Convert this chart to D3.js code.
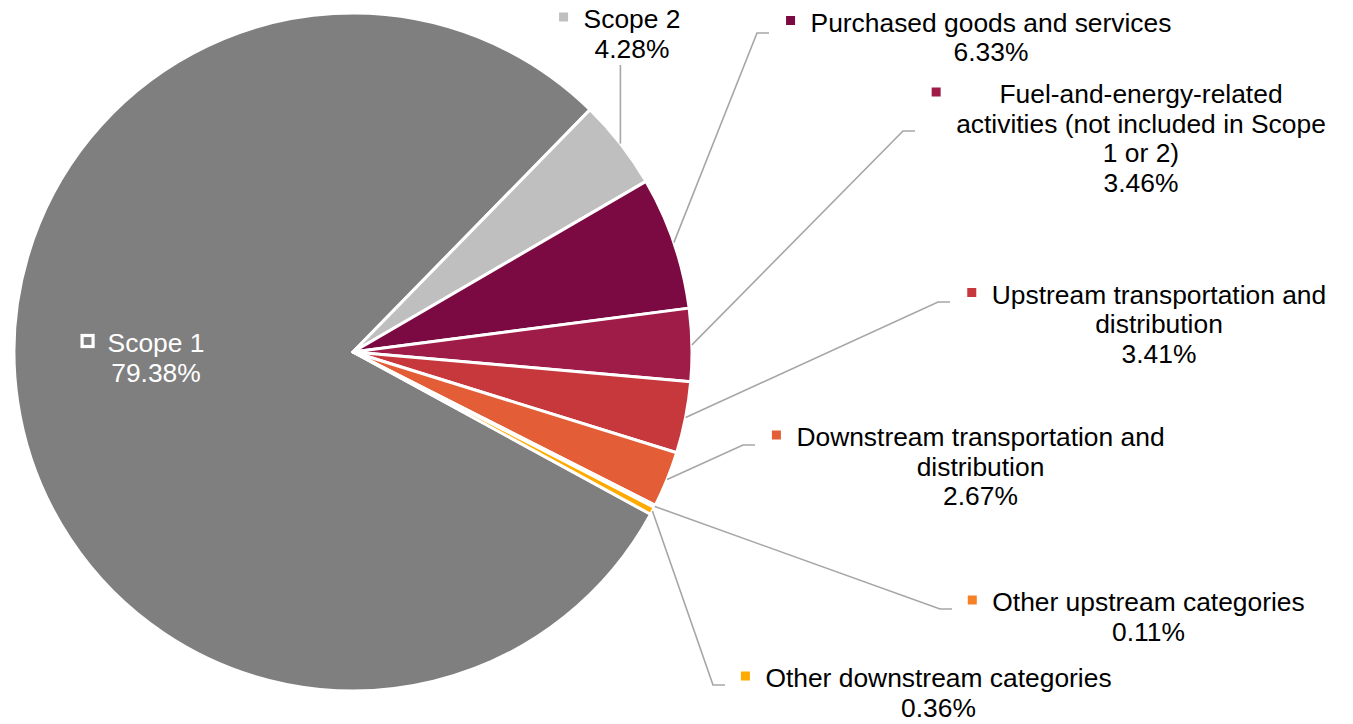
<!DOCTYPE html>
<html>
<head>
<meta charset="utf-8">
<script src="https://cdn.jsdelivr.net/npm/d3@7"></script>
<style>
  html, body { margin: 0; padding: 0; background: #ffffff; }
  svg { display: block; }
  text { font-family: "Liberation Sans", Arial, sans-serif; }
</style>
</head>
<body>
<svg id="chart" width="1353" height="724"></svg>
<script>
// ---- data ----
const categories = [
  "Scope 1",
  "Scope 2",
  "Purchased goods and services",
  "Fuel-and-energy-related activities (not included in Scope 1 or 2)",
  "Upstream transportation and distribution",
  "Downstream transportation and distribution",
  "Other upstream categories",
  "Other downstream categories"
];
const shares = [79.38, 4.28, 6.33, 3.46, 3.41, 2.67, 0.11, 0.36];
const valueLabels = ["79.38%", "4.28%", "6.33%", "3.46%", "3.41%", "2.67%", "0.11%", "0.36%"];
const labelLines = [
  ["Scope 1"],
  ["Scope 2"],
  ["Purchased goods and services"],
  ["Fuel-and-energy-related", "activities (not included in Scope", "1 or 2)"],
  ["Upstream transportation and", "distribution"],
  ["Downstream transportation and", "distribution"],
  ["Other upstream categories"],
  ["Other downstream categories"]
];
const colors = ["#7F7F7F", "#BFBFBF", "#7B0A42", "#A01C48", "#C7383D", "#E35D36", "#F58025", "#FFAA00"];

// ---- layout ----
const W = 1353, H = 724;
const cx = 353, cy = 352, R = 339;
const startDeg = 118.6;
const fontSize = 26.4, lineH = 29.7;
// label placement: text centre x, first baseline, leader elbow (null = inside / straight)
const labelPos = [
  { x: 156,    y: 352,   elbow: null,       inside: true },
  { x: 632,    y: 28,    elbow: "vertical", endY: 65 },
  { x: 991,    y: 31.5,  elbow: [757, 33] },
  { x: 1141,   y: 103,   elbow: [903, 131] },
  { x: 1159,   y: 303.5, elbow: [938, 302] },
  { x: 980.5,  y: 446,   elbow: [743, 445] },
  { x: 1148.5, y: 611,   elbow: [940, 609] },
  { x: 938.5,  y: 687,   elbow: [713, 685] }
];

const svg = d3.select("#chart");
const g = svg.append("g").attr("transform", `translate(${cx},${cy})`);

const rows = categories.map((c, i) => ({ name: c, value: shares[i], i }));
const start = startDeg * Math.PI / 180;
const pie = d3.pie().sort(null).value(d => d.value)
  .startAngle(start).endAngle(start + 2 * Math.PI);
const arcs = pie(rows);
const arc = d3.arc().innerRadius(0).outerRadius(R);

g.selectAll("path.slice").data(arcs).enter().append("path")
  .attr("class", "slice")
  .attr("d", arc)
  .attr("fill", d => colors[d.data.i])
  .attr("stroke", "#ffffff")
  .attr("stroke-width", 3)
  .attr("stroke-linejoin", "round");

// leader lines
const lines = svg.append("g");
arcs.forEach(a => {
  const p = labelPos[a.data.i];
  if (p.inside) return;
  const m = (a.startAngle + a.endAngle) / 2;
  const sx = cx + R * Math.sin(m), sy = cy - R * Math.cos(m);
  let pts;
  if (p.elbow === "vertical") {
    pts = [[sx, sy], [sx, p.endY]];
  } else {
    pts = [[sx, sy], p.elbow, [p.elbow[0] + 12, p.elbow[1]]];
  }
  lines.append("path")
    .attr("d", d3.line()(pts))
    .attr("fill", "none")
    .attr("stroke", "#A6A6A6")
    .attr("stroke-width", 1.6);
});

// labels
const labels = svg.append("g");
arcs.forEach(a => {
  const i = a.data.i;
  const p = labelPos[i];
  const lg = labels.append("g");
  const all = labelLines[i].concat([valueLabels[i]]);
  let minLeft = Infinity;
  all.forEach((t, k) => {
    const tx = lg.append("text")
      .attr("x", p.x)
      .attr("y", p.y + k * lineH)
      .attr("text-anchor", "middle")
      .attr("font-size", fontSize)
      .attr("fill", p.inside ? "#ffffff" : "#000000")
      .text(t);
    if (k < labelLines[i].length) {
      const w = tx.node().getComputedTextLength();
      minLeft = Math.min(minLeft, p.x - w / 2);
    }
  });
  if (p.inside) {
    lg.append("rect")
      .attr("x", minLeft - 25.5).attr("y", p.y - 16.5)
      .attr("width", 11).attr("height", 11)
      .attr("fill", colors[i])
      .attr("stroke", "#ffffff").attr("stroke-width", 3.2);
  } else {
    lg.append("rect")
      .attr("x", minLeft - 24.5).attr("y", p.y - 15.5)
      .attr("width", 9).attr("height", 9)
      .attr("fill", colors[i]);
  }
});
</script>
</body>
</html>
